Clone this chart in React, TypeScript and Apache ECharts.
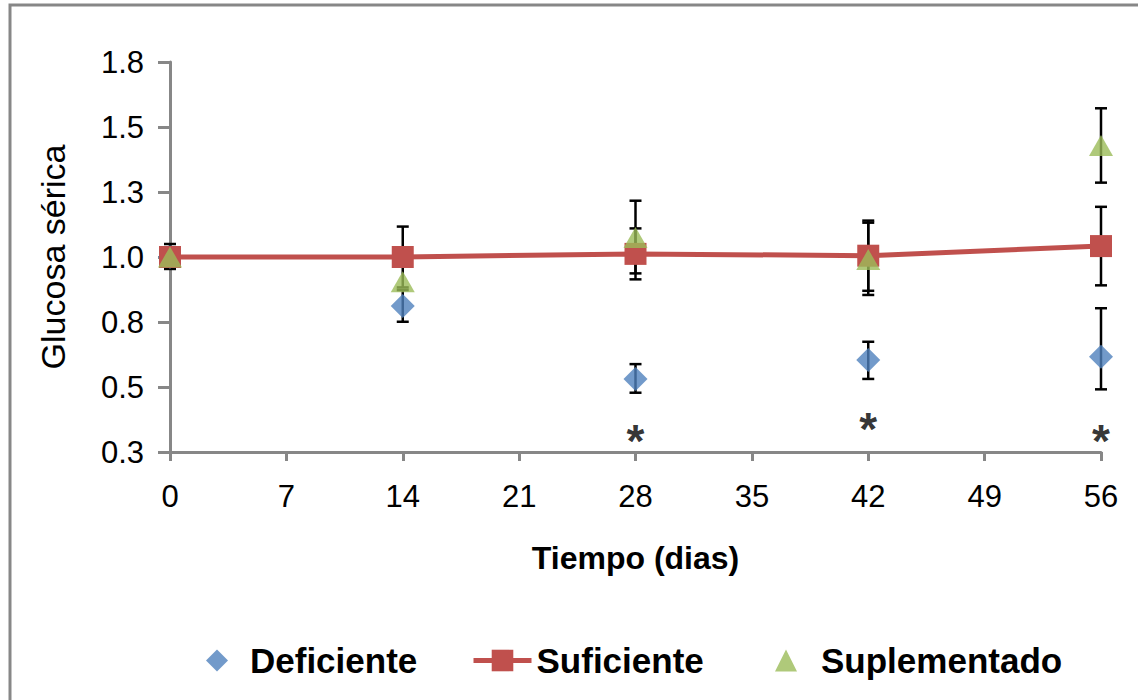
import React, { useEffect, useRef } from "react";
import * as echarts from "echarts";

const days = [0, 14, 28, 42, 56];
const xTicks = [0, 7, 14, 21, 28, 35, 42, 49, 56];
const deficiente = [1.0, 0.812, 0.531, 0.604, 0.616];
const suficiente = [1.0, 1.0, 1.012, 1.005, 1.042];
const suplementado = [1.0, 0.905, 1.075, 0.99, 1.429];

// error bars: [low, high] per day (null = none)
const deficienteErr: (number[] | null)[] = [[0.954, 1.05], [0.751, 0.873], [0.478, 0.588], [0.531, 0.674], [0.491, 0.803]];
const suficienteErr: (number[] | null)[] = [null, [0.883, 1.117], [0.914, 1.11], [0.87, 1.14], [0.891, 1.193]];
const suplementadoErr: (number[] | null)[] = [null, null, [0.937, 1.2165], [0.854, 1.132], [1.286, 1.572]];

// significance markers
const starDays = [28, 42, 56];
const starValues = [0.335, 0.38, 0.335];

const FONT = 'Arial, "Liberation Sans", sans-serif';

function errData(errs: (number[] | null)[]) {
  const out: number[][] = [];
  errs.forEach((e, i) => {
    if (e) out.push([days[i], e[0], e[1]]);
  });
  return out;
}

function errSeries(name: string, errs: (number[] | null)[]) {
  return {
    type: "custom",
    name: name + "_err",
    data: errData(errs),
    encode: { x: 0, y: [1, 2] },
    z: 1,
    clip: false,
    silent: true,
    renderItem: (params: any, api: any) => {
      const x = api.value(0);
      const lo = api.coord([x, api.value(1)]);
      const hi = api.coord([x, api.value(2)]);
      const w = 6;
      const st = { stroke: "#000", lineWidth: 2.5 };
      return {
        type: "group",
        children: [
          { type: "line", shape: { x1: lo[0], y1: lo[1], x2: hi[0], y2: hi[1] }, style: st },
          { type: "line", shape: { x1: lo[0] - w, y1: lo[1], x2: lo[0] + w, y2: lo[1] }, style: st },
          { type: "line", shape: { x1: hi[0] - w, y1: hi[1], x2: hi[0] + w, y2: hi[1] }, style: st },
        ],
      };
    },
  };
}

export default function App() {
  const ref = useRef<HTMLDivElement>(null);
  useEffect(() => {
    if (!ref.current) return;
    const chart = echarts.init(ref.current, null, { renderer: "svg" });
    const legendText = { fontFamily: FONT, fontSize: 35, fontWeight: "bold", color: "#000" };
    chart.setOption({
      animation: false,
      backgroundColor: "#fff",
      graphic: [
        {
          type: "rect",
          shape: { x: 10, y: 5, width: 1200, height: 760 },
          style: { fill: "none", stroke: "#878787", lineWidth: 3 },
          silent: true,
        },
      ],
      grid: { left: 170, top: 62, width: 931, height: 390, containLabel: false },
      xAxis: {
        type: "value",
        min: 0,
        max: 56,
        interval: 7,
        name: "Tiempo (dias)",
        nameLocation: "middle",
        nameGap: 90,
        nameTextStyle: { fontFamily: FONT, fontSize: 32, fontWeight: "bold", color: "#000" },
        axisLine: { show: true, onZero: false, lineStyle: { color: "#878787", width: 3 } },
        axisTick: { show: true, length: 9, lineStyle: { color: "#878787", width: 3 } },
        axisLabel: {
          fontFamily: FONT,
          fontSize: 31,
          color: "#000",
          margin: 29,
          customValues: xTicks,
        },
        splitLine: { show: false },
      },
      yAxis: {
        type: "value",
        min: 0.25,
        max: 1.75,
        interval: 0.25,
        name: "Glucosa sérica",
        nameLocation: "middle",
        nameGap: 100,
        nameTextStyle: { fontFamily: FONT, fontSize: 34, color: "#000" },
        axisLine: { show: true, onZero: false, lineStyle: { color: "#878787", width: 3 } },
        axisTick: { show: true, length: 12, lineStyle: { color: "#878787", width: 3 } },
        axisLabel: {
          fontFamily: FONT,
          fontSize: 31,
          color: "#000",
          margin: 26,
          formatter: (v: number) => v.toFixed(1),
        },
        splitLine: { show: false },
      },
      legend: [
        {
          data: ["Deficiente"],
          left: 201,
          top: 638,
          itemWidth: 22,
          itemHeight: 22,
          textStyle: { ...legendText, padding: [0, 0, 0, 17] },
        },
        {
          data: ["Suficiente"],
          left: 466,
          top: 638,
          itemWidth: 58,
          itemHeight: 27,
          lineStyle: { width: 5 },
          textStyle: legendText,
        },
        {
          data: ["Suplementado"],
          left: 770,
          top: 638,
          itemWidth: 22,
          itemHeight: 22,
          textStyle: { ...legendText, padding: [0, 0, 0, 19] },
        },
      ],
      series: [
        errSeries("Deficiente", deficienteErr),
        errSeries("Suficiente", suficienteErr),
        errSeries("Suplementado", suplementadoErr),
        {
          type: "scatter",
          name: "Deficiente",
          data: days.map((d, i) => [d, deficiente[i]]),
          symbol: "diamond",
          symbolSize: [24, 24],
          itemStyle: { color: "#4F81BD" },
          z: 3,
        },
        {
          type: "line",
          name: "Suficiente",
          data: days.map((d, i) => [d, suficiente[i]]),
          symbol: "rect",
          symbolSize: 22,
          showSymbol: true,
          lineStyle: { color: "#C0504D", width: 5 },
          itemStyle: { color: "#C0504D" },
          z: 4,
        },
        {
          type: "scatter",
          name: "Suplementado",
          data: days.map((d, i) => [d, suplementado[i]]),
          symbol: "triangle",
          symbolSize: [24, 21],
          itemStyle: { color: "#9BBB59" },
          z: 5,
        },
        {
          type: "scatter",
          name: "sig",
          data: starDays.map((d, i) => [d, starValues[i]]),
          symbolSize: 0,
          silent: true,
          label: {
            show: true,
            position: "inside",
            formatter: "*",
            fontFamily: FONT,
            fontSize: 46,
            fontWeight: "bold",
            color: "#000",
            offset: [0, 11],
          },
          z: 6,
        },
      ],
    });
    return () => chart.dispose();
  }, []);
  return (
    <div
      ref={ref}
      style={{ position: "absolute", left: 0, top: 0, width: 1138, height: 700 }}
    />
  );
}
